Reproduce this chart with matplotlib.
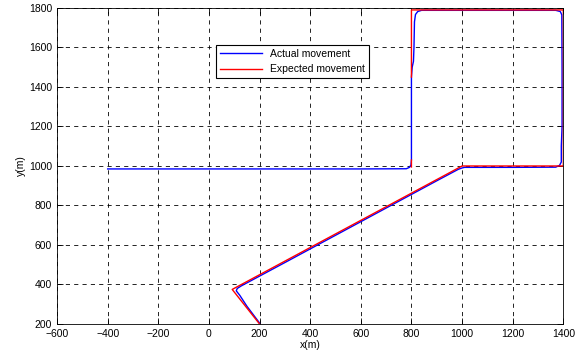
import matplotlib
matplotlib.use('Agg')
import matplotlib.pyplot as plt
import numpy as np

# actual (measured) path
actual_x = [200, 150, 122, 108, 112, 128, 300, 500, 700, 900, 985, 1000, 1010, 1200,
            1370, 1385, 1392, 1392, 1395, 1395, 1394, 1388, 1370, 1100, 840, 825, 816,
            812, 810, 808, 803, 800, 800, 798, 792, 780, 600, 200, -200, -400]
actual_y = [205, 290, 345, 368, 380, 393, 511, 649, 787, 925, 983, 990, 993, 993,
            994, 1003, 1020, 1100, 1200, 1500, 1765, 1782, 1788, 1788, 1788, 1782, 1767,
            1730, 1600, 1530, 1500, 1450, 1030, 1005, 993, 986, 985, 985, 985, 985]

# expected (planned) path
expected_x = [200, 92, 1000, 1400, 1400, 800, 800, np.nan, 800, 800]
expected_y = [200, 375, 1000, 1000, 1790, 1790, 1450, np.nan, 1030, 995]

x_ticks = [-600, -400, -200, 0, 200, 400, 600, 800, 1000, 1200, 1400]
y_ticks = [200, 400, 600, 800, 1000, 1200, 1400, 1600, 1800]

plt.rcParams['font.family'] = ['Liberation Sans', 'DejaVu Sans']

fig = plt.figure(figsize=(5.76, 3.62), dpi=100)
ax = fig.add_axes([0.099, 0.105, 0.879, 0.873])

ax.plot(actual_x, actual_y, color='blue', lw=1.0, label='Actual movement')
ax.plot(expected_x, expected_y, color='red', lw=1.0, label='Expected movement')

ax.set_xlim(-600, 1400)
ax.set_ylim(200, 1800)
ax.set_xticks(x_ticks)
ax.set_yticks(y_ticks)
ax.tick_params(direction='in', top=True, right=True, labelsize=7.5, length=4, width=0.6)
ax.grid(True, color='black', linestyle=(0, (5, 5)), lw=0.6)
for s in ax.spines.values():
    s.set_linewidth(0.6)

ax.set_xlabel('x(m)', fontsize=7.5, labelpad=1)
ax.set_ylabel('y(m)', fontsize=7.5, labelpad=2)

leg = ax.legend(loc='upper left', bbox_to_anchor=(0.314, 0.883), fontsize=7.5,
                fancybox=False, framealpha=1, edgecolor='black', borderaxespad=0,
                handlelength=4)
leg.get_frame().set_linewidth(0.8)

plt.savefig('out.png', dpi=100)
